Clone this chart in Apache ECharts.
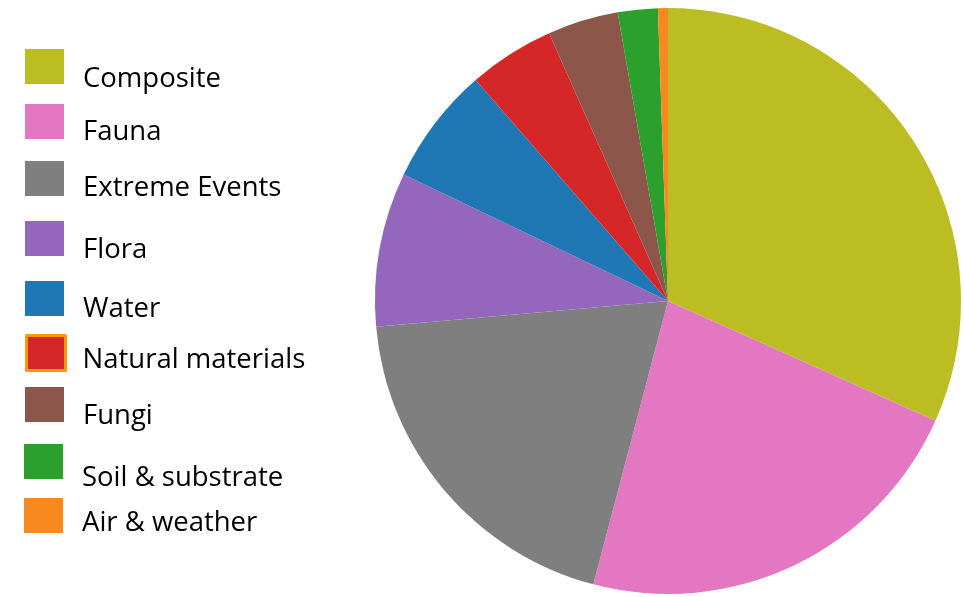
<!DOCTYPE html>
<html style="width: 100%;height:100%;">
<head>
    <meta charset="utf-8">
    <title>Category share</title>
    <script src="https://cdn.jsdelivr.net/npm/echarts@6/dist/echarts.min.js"></script>
    <style>
        html, body { margin: 0; padding: 0; background: #ffffff; }
        #chart { width: 964px; height: 597px; }
    </style>
</head>
<body>
    <div id="chart"></div>
    <script>
        // slices, clockwise from 12 o'clock (share in %)
        const categories = ['Composite', 'Fauna', 'Extreme Events', 'Flora', 'Water',
            'Natural materials', 'Fungi', 'Soil & substrate', 'Air & weather'];
        const shares = [31.7, 22.4, 19.5, 8.5, 6.5, 4.75, 3.9, 2.2, 0.55];
        const colors = ['#bcbd22', '#e377c2', '#7f7f7f', '#9467bd', '#1f77b4',
            '#d62728', '#8c564b', '#2ca02c', '#f7891f'];

        // legend rows are unevenly spaced in the original
        const legendTops = [49, 104, 161, 221, 281, 334, 387, 444, 498];
        const textShift = [13, 11, 10, 12, 11, 7.5, 12, 17, 7.5];

        const chart = echarts.init(document.getElementById('chart'));

        const legends = categories.map((name, i) => ({
            left: i >= 7 ? 24 : 25,
            top: legendTops[i],
            padding: 0,
            itemWidth: 39,
            itemHeight: 35,
            selectedMode: false,
            formatter: '{t|{name}}',
            data: [{
                name: name,
                icon: 'rect',
                itemStyle: name === 'Natural materials'
                    ? { color: colors[i], borderColor: '#ff9900', borderWidth: 3 }
                    : { color: colors[i], borderWidth: 0 }
            }],
            textStyle: {
                fontFamily: 'Open Sans',
                fontSize: 27.5,
                color: '#000000',
                padding: [0, 0, 0, name === 'Natural materials' ? 12 : 14],
                rich: {
                    t: {
                        fontFamily: 'Open Sans',
                        fontSize: 27.5,
                        color: '#000000',
                        padding: [textShift[i] * 2, 0, 0, 0]
                    }
                }
            }
        }));

        chart.setOption({
            animation: false,
            color: colors,
            legend: legends,
            series: [{
                type: 'pie',
                center: [668, 301],
                radius: 293,
                startAngle: 90,
                clockwise: true,
                label: { show: false },
                labelLine: { show: false },
                itemStyle: { borderWidth: 0 },
                emphasis: { disabled: true },
                data: categories.map((name, i) => ({ name: name, value: shares[i] }))
            }]
        });
    </script>
</body>
</html>
